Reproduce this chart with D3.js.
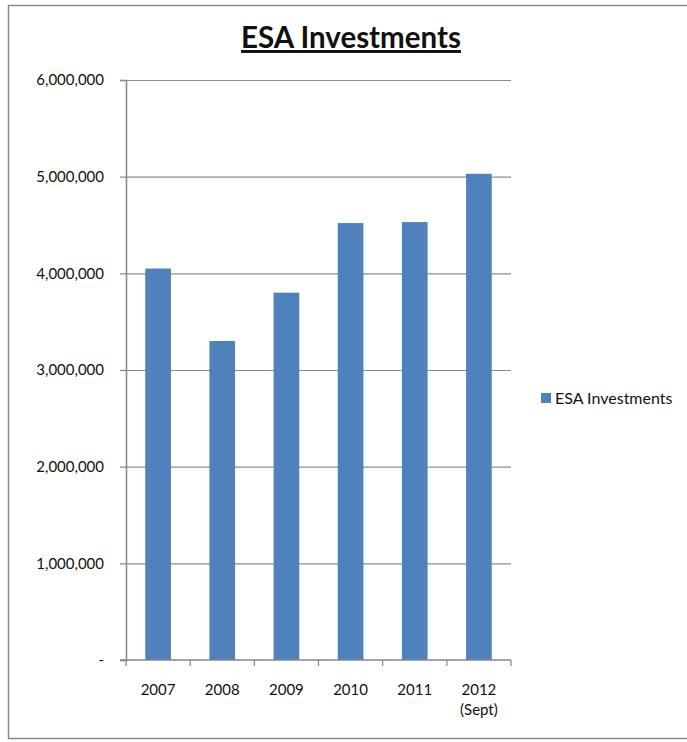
<!DOCTYPE html>
<html>
<head>
<meta charset="utf-8">
<script src="https://cdnjs.cloudflare.com/ajax/libs/d3/7.8.5/d3.min.js"></script>
<style>
  body { margin: 0; background: #fff; }
  svg text { font-family: Lato, "Open Sans", sans-serif; fill: #111; }
</style>
</head>
<body>
<div id="chart"></div>
<script>
// values
const years = ["2007", "2008", "2009", "2010", "2011", "2012"];
const subLabels = ["", "", "", "", "", "(Sept)"];
const investments = [4050000, 3300000, 3800000, 4520000, 4530000, 5030000];
const yTicks = [0, 1000000, 2000000, 3000000, 4000000, 5000000, 6000000];

const W = 687, H = 742;
const plot = { left: 126, right: 511, top: 80, bottom: 660 };

const svg = d3.select("#chart").append("svg")
    .attr("width", W)
    .attr("height", H);

// outer chart border
svg.append("rect")
    .attr("x", 8.5).attr("y", 5.5)
    .attr("width", 690).attr("height", 733)
    .attr("fill", "#fff")
    .attr("stroke", "#8a8a8a")
    .attr("stroke-width", 1.5);

const x = d3.scaleBand()
    .domain(years)
    .range([plot.left, plot.right])
    .paddingInner(0.6)
    .paddingOuter(0.3);

const y = d3.scaleLinear()
    .domain([0, 6000000])
    .range([plot.bottom, plot.top]);

// gridlines
svg.append("g")
    .selectAll("line")
    .data(yTicks.slice(1))
    .enter().append("line")
    .attr("x1", plot.left)
    .attr("x2", plot.right)
    .attr("y1", d => y(d) + 0.5)
    .attr("y2", d => y(d) + 0.5)
    .attr("stroke", "#8c8c8c")
    .attr("stroke-width", 1.2);

// bars
svg.selectAll(".bar")
    .data(investments)
    .enter().append("rect")
    .attr("class", "bar")
    .attr("x", (d, i) => x(years[i]))
    .attr("width", x.bandwidth())
    .attr("y", d => y(d))
    .attr("height", d => y(0) - y(d))
    .attr("fill", "#4f81bd");

// y axis
const yAxis = d3.axisLeft(y)
    .tickValues(yTicks)
    .tickSize(6)
    .tickPadding(16)
    .tickFormat(d => d === 0 ? "-" : d3.format(",")(d));

const gy = svg.append("g")
    .attr("transform", `translate(${plot.left},0)`)
    .call(yAxis);
gy.select(".domain").attr("stroke", "#868686").attr("stroke-width", 1.5);
gy.selectAll(".tick line").attr("stroke", "#868686").attr("stroke-width", 1.2);
gy.selectAll(".tick text").style("font-size", "15px").attr("fill", "#111");

// x axis
const xTickScale = d3.scaleLinear().domain([0, years.length]).range([plot.left, plot.right]);
const gx = svg.append("g")
    .attr("transform", `translate(0,${plot.bottom})`);
gx.append("line")
    .attr("x1", plot.left - 6).attr("x2", plot.right)
    .attr("y1", 0).attr("y2", 0)
    .attr("stroke", "#868686").attr("stroke-width", 1.5);
gx.selectAll(".xtick")
    .data(d3.range(years.length + 1))
    .enter().append("line")
    .attr("x1", d => xTickScale(d)).attr("x2", d => xTickScale(d))
    .attr("y1", 0).attr("y2", 6)
    .attr("stroke", "#868686").attr("stroke-width", 1.2);

gx.selectAll(".xlabel")
    .data(years)
    .enter().append("text")
    .attr("x", d => x(d) + x.bandwidth() / 2)
    .attr("y", 35)
    .attr("text-anchor", "middle")
    .style("font-size", "15px")
    .text(d => d);

gx.selectAll(".xsub")
    .data(subLabels)
    .enter().append("text")
    .attr("x", (d, i) => x(years[i]) + x.bandwidth() / 2)
    .attr("y", 55)
    .attr("text-anchor", "middle")
    .style("font-size", "15px")
    .text(d => d);

// title
svg.append("text")
    .attr("x", 351)
    .attr("y", 48)
    .attr("text-anchor", "middle")
    .style("font-size", "29.5px")
    .style("font-weight", "bold")
    .style("text-decoration", "underline")
    .text("ESA Investments");

// legend
const legend = svg.append("g").attr("transform", "translate(541,393)");
legend.append("rect")
    .attr("width", 10).attr("height", 10)
    .attr("fill", "#4f81bd");
legend.append("text")
    .attr("x", 14).attr("y", 11)
    .style("font-size", "16px")
    .text("ESA Investments");
</script>
</body>
</html>
